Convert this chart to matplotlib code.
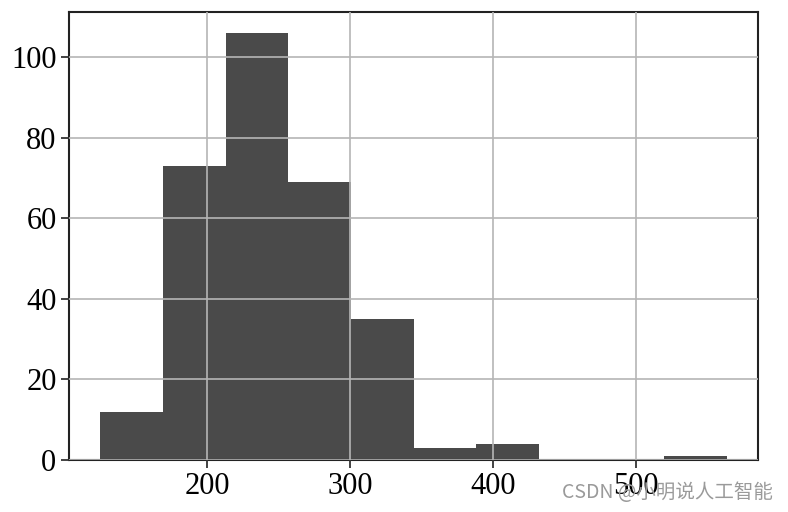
import matplotlib
matplotlib.use("Agg")
import matplotlib.pyplot as plt
import numpy as np

# histogram
bin_edges = [125.0, 168.9, 212.7, 256.6, 300.4, 344.3, 388.2, 432.0, 475.9, 519.7, 563.6]
counts = [12, 73, 106, 69, 35, 3, 4, 0, 0, 1]

centers = (np.array(bin_edges[:-1]) + np.array(bin_edges[1:])) / 2

plt.rcParams['font.family'] = ['Liberation Serif', 'DejaVu Serif']

fig = plt.figure(figsize=(7.88, 5.12), dpi=100)
ax = fig.add_axes([69/788, 1 - 460/512, (758-69)/788, (460-12)/512])

ax.hist(centers, bins=bin_edges, weights=counts, color="#4a4a4a")
ax.set_axisbelow(False)
ax.grid(True, color="#b5b5b5", linewidth=1.2)

ax.set_xticks([200, 300, 400, 500])
ax.set_yticks([0, 20, 40, 60, 80, 100])
ax.tick_params(labelsize=22, length=6, width=1.3, color="#333333", pad=3)
for s in ax.spines.values():
    s.set_linewidth(1.5)
    s.set_color("#222222")

# watermark (it overlaps the 500 label in the original too)
fig.text(0.981, 0.038, "CSDN @小明说人工智能", ha="right", va="center",
         fontsize=14, color="#9a9a9a", family=['Noto Sans CJK SC', 'DejaVu Sans'])

fig.savefig("out.png", dpi=100)
